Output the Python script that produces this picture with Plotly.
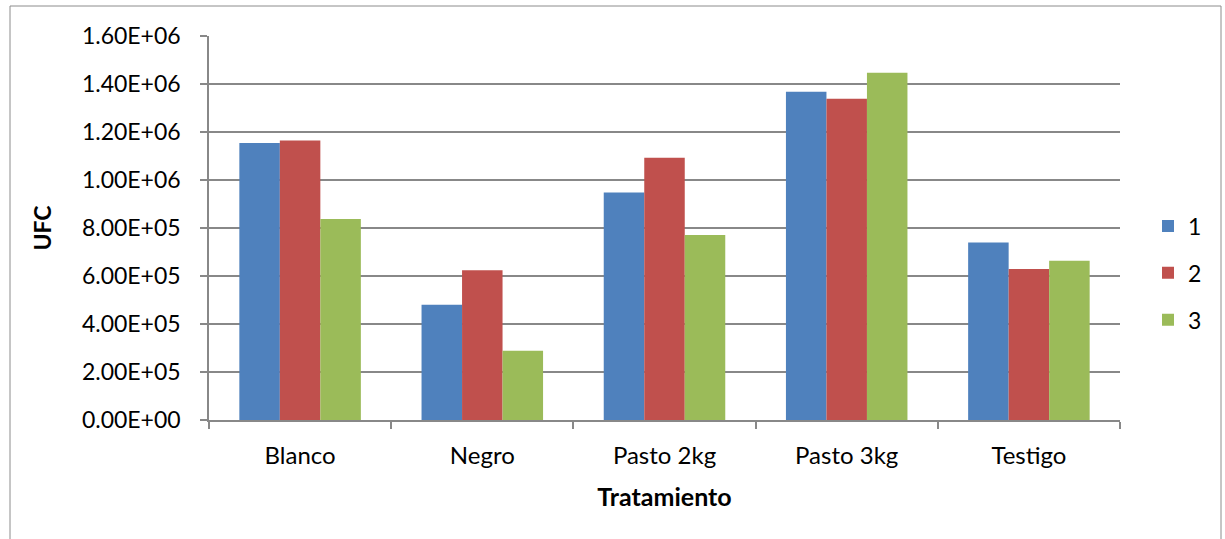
import plotly.graph_objects as go

# Data: UFC counts per treatment, three replicates
tratamientos = ["Blanco", "Negro", "Pasto 2kg", "Pasto 3kg", "Testigo"]
rep_1 = [1.154e6, 0.480e6, 0.948e6, 1.368e6, 0.740e6]
rep_2 = [1.165e6, 0.624e6, 1.093e6, 1.339e6, 0.629e6]
rep_3 = [0.838e6, 0.289e6, 0.771e6, 1.447e6, 0.664e6]
series_names = ["1", "2", "3"]
y_ticks = [0, 2e5, 4e5, 6e5, 8e5, 1.0e6, 1.2e6, 1.4e6, 1.6e6]

colors = ["#4F81BD", "#C0504D", "#9BBB59"]
FONT = "Lato, 'Open Sans', sans-serif"
GRID = "#888888"

W, H = 1225, 539
L, R, T, B = 209, 1120, 36, 420  # plot area in pixels

fig = go.Figure()
for name, vals, col in zip(series_names, [rep_1, rep_2, rep_3], colors):
    fig.add_trace(go.Bar(
        x=tratamientos, y=vals, name=name, legendgroup=name,
        marker=dict(color=col, line=dict(width=0)),
    ))

fig.update_layout(
    width=W, height=H,
    margin=dict(l=L, r=W - R, t=T, b=H - B, pad=0),
    paper_bgcolor="white", plot_bgcolor="white",
    barmode="group", bargap=0.333, bargroupgap=0,
    font=dict(family=FONT, size=23, color="#000000"),
    showlegend=True,
    legend=dict(
        x=(1148 - L) / (R - L), xanchor="left",
        y=(B - 273) / (B - T), yanchor="middle",
        font=dict(size=23), tracegroupgap=14,
        bgcolor="rgba(0,0,0,0)",
    ),
    xaxis=dict(
        showline=True, linecolor=GRID, linewidth=1.5,
        ticks="outside", ticklen=7, tickcolor=GRID, tickwidth=1.5,
        tickson="boundaries", showgrid=False,
        tickfont=dict(size=24),
        ticklabelstandoff=13,
        title=dict(text="<b>Tratamiento</b>", font=dict(size=25), standoff=21),
    ),
    yaxis=dict(
        range=[0, 1.6e6], tickvals=y_ticks,
        ticktext=[f"{v:.2E}" for v in y_ticks],
        showline=True, linecolor=GRID, linewidth=1.5,
        ticks="outside", ticklen=7, tickcolor=GRID, tickwidth=1.5,
        showgrid=True, gridcolor=GRID, gridwidth=1.5,
        zeroline=False, ticklabelstandoff=15,
        title=dict(text="<b>UFC</b>", font=dict(size=23), standoff=24),
    ),
)

# Outer chart frame
pw, ph = R - L, B - T
fig.add_shape(
    type="rect", xref="paper", yref="paper",
    x0=(10 - L) / pw, x1=(1221 - L) / pw,
    y0=(B - 560) / ph, y1=(B - 6) / ph,
    line=dict(color="#8c8c8c", width=1), fillcolor="rgba(0,0,0,0)", layer="below",
)

fig.write_html("out.html")
